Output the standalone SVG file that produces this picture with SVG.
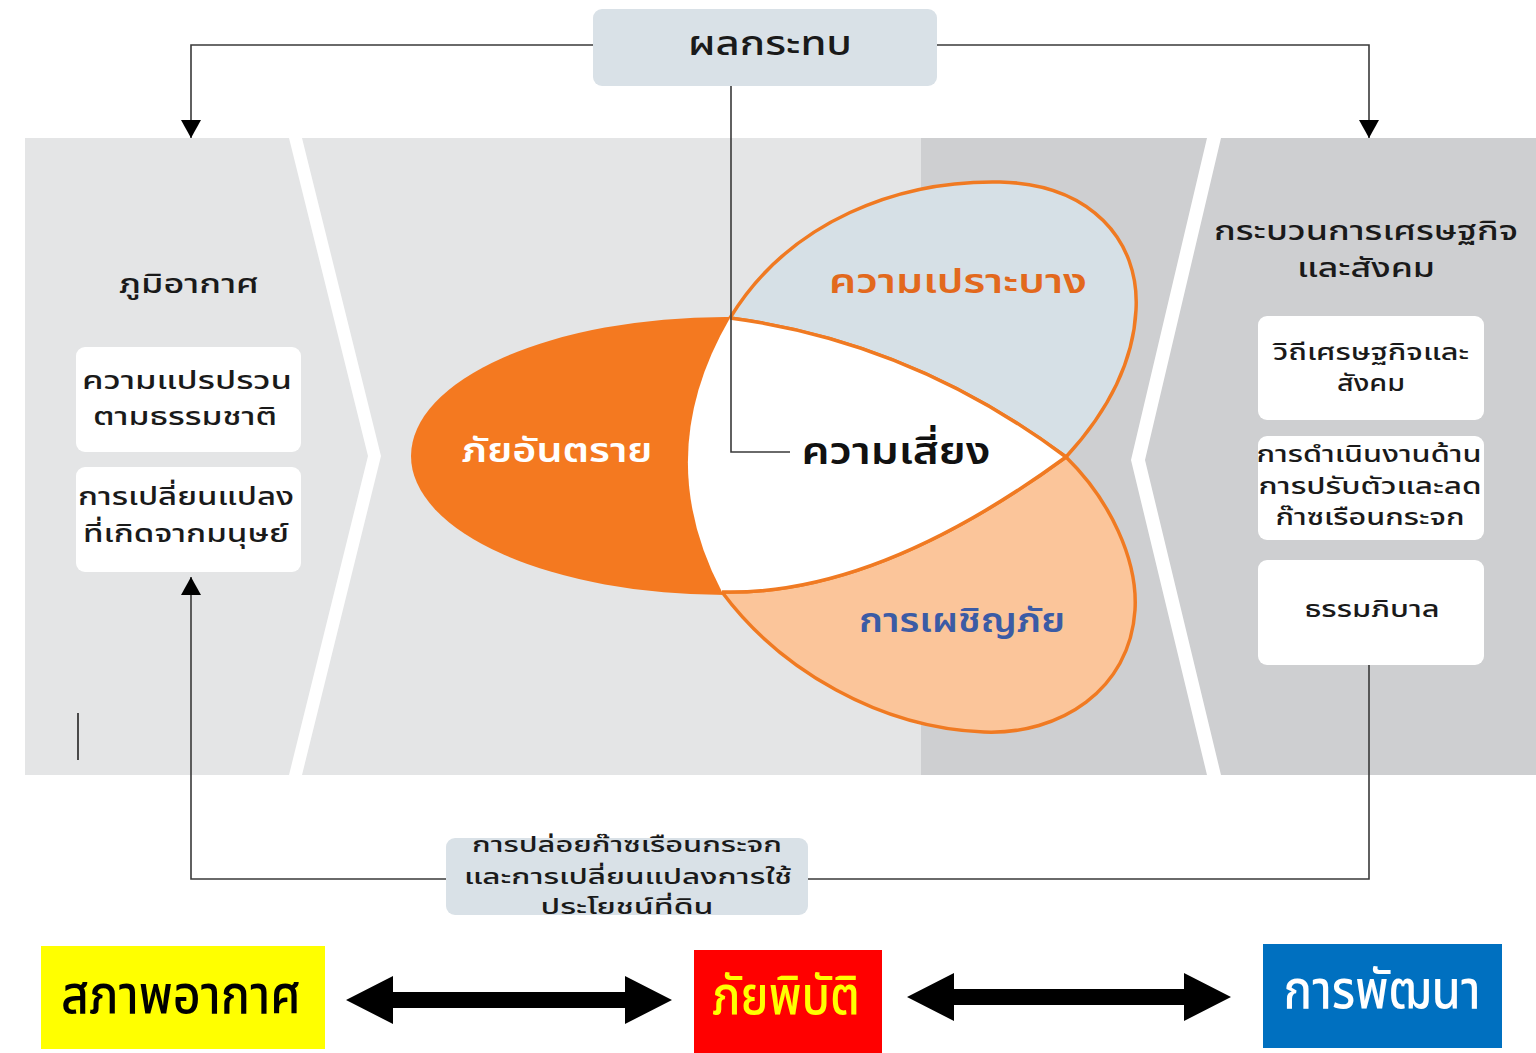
<svg xmlns="http://www.w3.org/2000/svg" width="1536" height="1053" viewBox="0 0 1536 1053">
  <defs>
    <marker id="tri" viewBox="0 0 18 20" refX="18" refY="10" markerWidth="18" markerHeight="20" markerUnits="userSpaceOnUse" orient="auto">
      <path d="M0 0 L18 10 L0 20 Z" fill="#000"/>
    </marker>
    <style>
      text { font-family: "Noto Sans Thai", "Noto Sans", "DejaVu Sans", sans-serif; text-anchor: middle; fill: #1a1a1a; font-weight: 500; }
      .box { fill: #ffffff; }
      .soft { fill: #d9e1e7; }
      .link { fill: none; stroke: #3a3a3a; stroke-width: 1.6; }
      .edge { stroke: #f07a22; stroke-width: 3.5; stroke-linejoin: round; }
      .t27 { font-size: 25px; }
      .t24 { font-size: 23px; }
      .t22 { font-size: 21px; }
      .lbl { font-size: 33px; font-weight: 600; }
      .big { font-size: 54px; }
    </style>
  </defs>

  <rect width="1536" height="1053" fill="#ffffff"/>

  <!-- background panels -->
  <g id="panels">
    <rect x="25" y="138" width="896" height="637" fill="#e4e5e6"/>
    <rect x="921" y="138" width="615" height="637" fill="#cecfd1"/>
    <polygon points="289,138 302,138 381,456 302,775 289,775 368,456" fill="#ffffff"/>
    <polygon points="1207,138 1221,138 1145,460 1221,775 1207,775 1131,460" fill="#ffffff"/>
    <line x1="78" y1="713" x2="78" y2="760" stroke="#222" stroke-width="1.6"/>
  </g>

  <!-- risk petals -->
  <g id="hazard">
    <ellipse cx="725" cy="456" rx="314" ry="139" fill="#f47920"/>
    <text class="lbl" x="557" y="462" textLength="191" lengthAdjust="spacingAndGlyphs" style="fill:#ffffff">ภัยอันตราย</text>
  </g>
  <g id="vulnerability">
    <path class="edge" fill="#d6e0e6" d="M730 318 C790 220 900 180 1000 182 C1090 184 1140 240 1136 310 C1133 370 1100 420 1066 457 Q912 342 730 318 Z"/>
    <text class="lbl" x="958" y="293" textLength="258" lengthAdjust="spacingAndGlyphs" style="fill:#e2691d">ความเปราะบาง</text>
  </g>
  <g id="exposure">
    <path class="edge" fill="#fbc59a" d="M1066 457 C1110 500 1138 560 1135 610 C1130 690 1060 735 984 732 C880 728 780 670 722 592 Q876 596 1066 457 Z"/>
    <text class="lbl" x="962" y="632" textLength="206" lengthAdjust="spacingAndGlyphs" style="fill:#3b5ba5">การเผชิญภัย</text>
  </g>
  <g id="risk">
    <path fill="#ffffff" d="M730 318 Q912 342 1066 457 Q876 596 722 592 Q650 455 730 318 Z"/>
    <path class="edge" fill="none" d="M730 318 Q912 342 1066 457 Q876 596 722 592"/>
  </g>

  <!-- connectors -->
  <g id="connectors">
    <path class="link" d="M593 45 H191 V138" marker-end="url(#tri)"/>
    <path class="link" d="M937 45 H1369 V138" marker-end="url(#tri)"/>
    <path class="link" d="M731 86 V452 H790"/>
    <path class="link" d="M1369 665 V879 H808"/>
    <path class="link" d="M446 879 H191 V577" marker-end="url(#tri)"/>
  </g>

  <g id="risk-label">
    <text x="896" y="464" textLength="189" lengthAdjust="spacingAndGlyphs" style="font-size:38px;font-weight:600;fill:#111">ความเสี่ยง</text>
  </g>

  <!-- top node -->
  <g id="impact">
    <rect class="soft" x="593" y="9" width="344" height="77" rx="9"/>
    <text x="770" y="55" textLength="164" lengthAdjust="spacingAndGlyphs" style="font-size:33px">ผลกระทบ</text>
  </g>

  <!-- climate column -->
  <g id="climate">
    <text x="189" y="293" textLength="140" lengthAdjust="spacingAndGlyphs" style="font-size:26px">ภูมิอากาศ</text>
  </g>
  <g id="natural-variability">
    <rect class="box" x="76" y="347" width="225" height="105" rx="9"/>
    <text class="t27" x="187" y="389" textLength="210" lengthAdjust="spacingAndGlyphs">ความแปรปรวน</text>
    <text class="t27" x="185" y="425" textLength="184" lengthAdjust="spacingAndGlyphs">ตามธรรมชาติ</text>
  </g>
  <g id="human-change">
    <rect class="box" x="76" y="467" width="225" height="105" rx="9"/>
    <text class="t27" x="186" y="505" textLength="216" lengthAdjust="spacingAndGlyphs">การเปลี่ยนแปลง</text>
    <text class="t27" x="186" y="542" textLength="206" lengthAdjust="spacingAndGlyphs">ที่เกิดจากมนุษย์</text>
  </g>

  <!-- socio-economic column -->
  <g id="socio-economic">
    <text x="1366" y="240" textLength="304" lengthAdjust="spacingAndGlyphs" style="font-size:27px">กระบวนการเศรษฐกิจ</text>
    <text x="1366" y="277" textLength="138" lengthAdjust="spacingAndGlyphs" style="font-size:27px">และสังคม</text>
  </g>
  <g id="pathways">
    <rect class="box" x="1258" y="316" width="226" height="104" rx="9"/>
    <text class="t24" x="1371" y="360" textLength="196" lengthAdjust="spacingAndGlyphs">วิถีเศรษฐกิจและ</text>
    <text class="t24" x="1371" y="391" textLength="68" lengthAdjust="spacingAndGlyphs">สังคม</text>
  </g>
  <g id="adaptation">
    <rect class="box" x="1258" y="436" width="226" height="104" rx="9"/>
    <text class="t24" x="1369" y="462" textLength="225" lengthAdjust="spacingAndGlyphs">การดำเนินงานด้าน</text>
    <text class="t24" x="1370" y="494" textLength="223" lengthAdjust="spacingAndGlyphs">การปรับตัวและลด</text>
    <text class="t24" x="1370" y="525" textLength="189" lengthAdjust="spacingAndGlyphs">ก๊าซเรือนกระจก</text>
  </g>
  <g id="governance">
    <rect class="box" x="1258" y="560" width="226" height="105" rx="9"/>
    <text class="t24" x="1372" y="617" textLength="135" lengthAdjust="spacingAndGlyphs">ธรรมภิบาล</text>
  </g>

  <!-- emissions node -->
  <g id="emissions">
    <rect class="soft" x="446" y="838" width="362" height="77" rx="9"/>
    <text class="t22" x="627" y="852" textLength="310" lengthAdjust="spacingAndGlyphs">การปล่อยก๊าซเรือนกระจก</text>
    <text class="t22" x="628" y="884" textLength="328" lengthAdjust="spacingAndGlyphs">และการเปลี่ยนแปลงการใช้</text>
    <text class="t22" x="627" y="914" textLength="173" lengthAdjust="spacingAndGlyphs">ประโยชน์ที่ดิน</text>
  </g>

  <!-- bottom row -->
  <g id="weather">
    <rect x="41" y="946" width="284" height="103" fill="#ffff00"/>
    <text class="big" x="181" y="1013" textLength="240" lengthAdjust="spacingAndGlyphs" style="fill:#000">สภาพอากาศ</text>
  </g>
  <g id="disaster">
    <rect x="694" y="950" width="188" height="103" fill="#ff0000"/>
    <text class="big" x="786" y="1014" textLength="148" lengthAdjust="spacingAndGlyphs" style="fill:#ffff00">ภัยพิบัติ</text>
  </g>
  <g id="development">
    <rect x="1263" y="944" width="239" height="104" fill="#0070c0"/>
    <text class="big" x="1382" y="1008" textLength="197" lengthAdjust="spacingAndGlyphs" style="fill:#ffffff">การพัฒนา</text>
  </g>
  <g id="bottom-arrows">
    <polygon points="346,1000 393,976 393,992 625,992 625,976 672,1000 625,1024 625,1008 393,1008 393,1024" fill="#000"/>
    <polygon points="907,997 954,973 954,989 1184,989 1184,973 1231,997 1184,1021 1184,1005 954,1005 954,1021" fill="#000"/>
  </g>
</svg>
